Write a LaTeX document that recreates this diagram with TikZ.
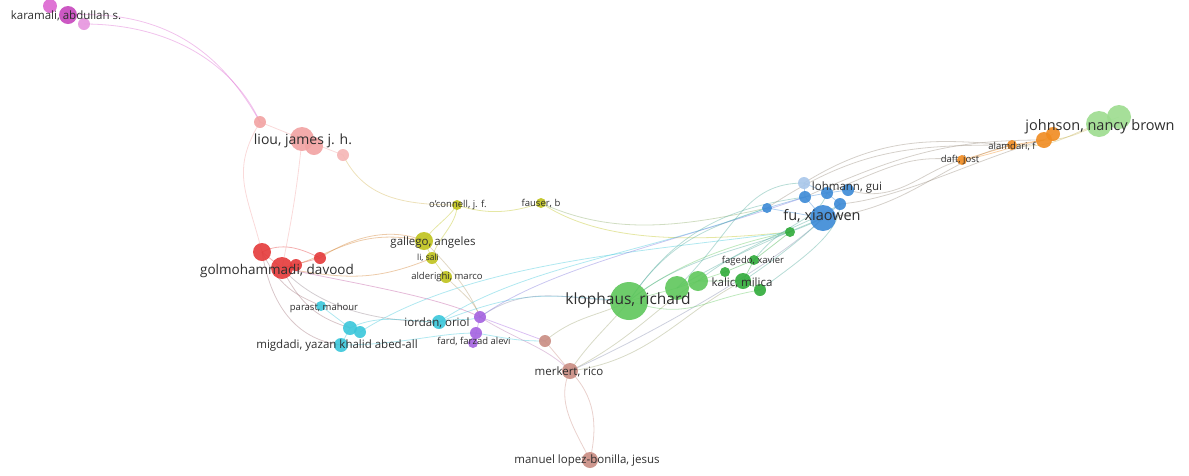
\documentclass[tikz,border=0pt]{standalone}
\usepackage{fontspec}
\setmainfont{Open Sans}
\newcommand\fs[1]{\fontsize{#1}{#1}\selectfont}
\pgfdeclarelayer{bg}
\pgfsetlayers{bg,main}
\definecolor{cMag}{HTML}{DC66D0}
\definecolor{cMagD}{HTML}{C646BC}
\definecolor{cPink}{HTML}{F2A2A2}
\definecolor{cRed}{HTML}{E43A3A}
\definecolor{cOlive}{HTML}{BFC21C}
\definecolor{cCyan}{HTML}{3AC6DA}
\definecolor{cPurp}{HTML}{A462E0}
\definecolor{cBrown}{HTML}{C98C82}
\definecolor{cGreen}{HTML}{5EC75B}
\definecolor{cDGreen}{HTML}{30AB3A}
\definecolor{cBlue}{HTML}{3B89D6}
\definecolor{cLBlue}{HTML}{A9C7EA}
\definecolor{cOrange}{HTML}{F08B20}
\definecolor{cLGreen}{HTML}{9CDC8E}
\definecolor{cText}{HTML}{2E2E2E}
\tikzset{
  dot/.style={circle, inner sep=0pt, draw=none, fill=#1, fill opacity=0.9},
  lab/.style={inner sep=0pt, text=cText},
  e/.style={draw=#1, draw opacity=0.4, line width=0.8pt},
}
\begin{document}
\begin{tikzpicture}[x=1pt, y=-1pt]
\useasboundingbox (0,0) rectangle (1189,475);

% ---- author circles ----
% karamali group
\node[dot=cMag, minimum size=14pt] (kar1) at (50,6) {};
\node[dot=cMagD, minimum size=18pt] (kar2) at (68,15) {};
\node[dot=cMag!70, minimum size=12pt] (kar3) at (84,24) {};
% liou group
\node[dot=cPink, minimum size=12pt] (li1) at (260,122) {};
\node[dot=cPink, minimum size=24pt] (li2) at (302,139) {};
\node[dot=cPink, minimum size=18pt] (li3) at (314,146) {};
\node[dot=cPink!80, minimum size=12pt] (li4) at (343,155) {};
% golmohammadi group
\node[dot=cRed, minimum size=18pt] (go1) at (262,252) {};
\node[dot=cRed, minimum size=22pt] (go2) at (282,268) {};
\node[dot=cRed, minimum size=12pt] (go3) at (296,265) {};
\node[dot=cRed, minimum size=12pt] (go4) at (320,258) {};
% gallego group
\node[dot=cOlive, minimum size=10pt] (oc) at (457,205) {};
\node[dot=cOlive, minimum size=10pt] (fa) at (541,203) {};
\node[dot=cOlive, minimum size=18pt] (ga) at (424,241) {};
\node[dot=cOlive, minimum size=12pt] (ls) at (432,258) {};
\node[dot=cOlive, minimum size=12pt] (al) at (446,277) {};
% migdadi / iordan group
\node[dot=cCyan, minimum size=10pt] (pa) at (321,306) {};
\node[dot=cCyan, minimum size=14pt] (mi1) at (350,328) {};
\node[dot=cCyan, minimum size=12pt] (mi2) at (360,332) {};
\node[dot=cCyan, minimum size=14pt] (mi3) at (341,345) {};
\node[dot=cCyan, minimum size=14pt] (io) at (439,322) {};
% fard group
\node[dot=cPurp, minimum size=12pt] (pu1) at (480,317) {};
\node[dot=cPurp, minimum size=12pt] (pu2) at (476,333) {};
\node[dot=cPurp, minimum size=10pt] (pu3) at (473,343) {};
% merkert group
\node[dot=cBrown, minimum size=12pt] (br1) at (545,341) {};
\node[dot=cBrown, minimum size=16pt] (me) at (570,371) {};
\node[dot=cBrown, minimum size=16pt] (ma) at (590,460) {};
% klophaus group
\node[dot=cGreen, minimum size=38pt] (kl) at (629,301) {};
\node[dot=cGreen, minimum size=24pt] (g2) at (677,288) {};
\node[dot=cGreen, minimum size=20pt] (g3) at (698,281) {};
\node[dot=cDGreen, minimum size=10pt] (g4) at (725,272) {};
\node[dot=cDGreen, minimum size=16pt] (g5) at (743,281) {};
\node[dot=cDGreen, minimum size=12pt] (g6) at (760,290) {};
\node[dot=cDGreen, minimum size=10pt] (fg) at (754,260) {};
\node[dot=cDGreen, minimum size=10pt] (g7) at (790,232) {};
% fu group
\node[dot=cBlue, minimum size=10pt] (b1) at (767,208) {};
\node[dot=cLBlue, minimum size=12pt] (b2) at (804,183) {};
\node[dot=cBlue, minimum size=12pt] (b3) at (805,197) {};
\node[dot=cBlue, minimum size=12pt] (b4) at (827,193) {};
\node[dot=cBlue, minimum size=12pt] (b5) at (848,190) {};
\node[dot=cBlue, minimum size=12pt] (b6) at (840,204) {};
\node[dot=cBlue, minimum size=26pt] (fu) at (823,218) {};
% johnson / orange group
\node[dot=cOrange, minimum size=10pt] (df) at (962,160) {};
\node[dot=cOrange, minimum size=10pt] (am) at (1012,145) {};
\node[dot=cOrange, minimum size=16pt] (or1) at (1044,140) {};
\node[dot=cOrange, minimum size=14pt] (or2) at (1053,134) {};
\node[dot=cLGreen, minimum size=26pt] (jo1) at (1099,124) {};
\node[dot=cLGreen, minimum size=24pt] (jo2) at (1119,117) {};

% ---- co-authorship links ----
\begin{pgfonlayer}{bg}
% magenta and pink
\draw[e=cMag] (kar3.center) .. controls +(90,0) and +(-25,-55) .. (li1.center);
\draw[e=cMag] (kar2.center) .. controls +(105,-6) and +(-35,-62) .. (li1.center);
\draw[e=cPink] (li1.center) -- (li2.center) -- (li4.center);
\draw[e=cPink] (li1.center) .. controls +(-30,50) and +(-15,-60) .. (go1.center);
\draw[e=cPink] (li2.center) .. controls +(-5,50) and +(10,-50) .. (go2.center);
\draw[e=cOlive!60!cPink] (li4.center) .. controls +(20,40) and +(-60,0) .. (oc.center);
% olive
\draw[e=cOlive] (oc.center) .. controls +(30,10) and +(-30,10) .. (fa.center);
\draw[e=cOlive] (fa.center) .. controls +(60,40) and +(-100,10) .. (g7.center);
\draw[e=cOlive!60!cBlue] (fa.center) .. controls +(70,32) and +(-90,20) .. (b1.center);
\draw[e=cOlive] (oc.center) .. controls +(-10,15) and +(10,-15) .. (ga.center);
\draw[e=cOlive] (oc.center) .. controls +(0,20) and +(5,-20) .. (ls.center);
\draw[e=cOlive] (ga.center) -- (ls.center) -- (al.center);
\draw[e=cOlive!50!cRed] (ga.center) .. controls +(-35,-15) and +(30,-20) .. (go4.center);
\draw[e=cOlive!50!cRed] (ga.center) .. controls +(-70,-15) and +(50,-10) .. (go2.center);
\draw[e=cOlive!50!cRed] (ls.center) .. controls +(-60,25) and +(60,10) .. (go2.center);
\draw[e=cOlive!60!cPurp] (al.center) .. controls +(20,20) and +(-5,-15) .. (pu1.center);
\draw[e=cOlive!60!cPurp] (ga.center) .. controls +(30,30) and +(-10,-25) .. (pu1.center);
% red
\draw[e=cRed] (go1.center) -- (go2.center) -- (go4.center);
\draw[e=cRed] (go1.center) .. controls +(20,-10) and +(-20,-10) .. (go4.center);
\draw[e=cRed!60!cCyan] (go2.center) .. controls +(20,40) and +(-30,-10) .. (mi1.center);
\draw[e=cRed!60!cCyan] (go1.center) .. controls +(20,40) and +(-20,-10) .. (pa.center);
\draw[e=cRed!50!cCyan] (go2.center) .. controls +(40,45) and +(-50,0) .. (io.center);
\draw[e=cRed!40!cPurp] (go2.center) .. controls +(70,15) and +(-40,-20) .. (pu1.center);
\draw[e=cRed!60!cCyan] (go1.center) .. controls +(10,60) and +(-40,-5) .. (mi3.center);
% cyan
\draw[e=cCyan] (pa.center) -- (mi1.center) -- (mi3.center);
\draw[e=cCyan] (mi1.center) .. controls +(30,-15) and +(-30,0) .. (io.center);
\draw[e=cCyan] (mi2.center) .. controls +(110,-70) and +(-150,20) .. (g7.center);
\draw[e=cCyan] (io.center) .. controls +(80,-55) and +(-120,45) .. (b1.center);
\draw[e=cCyan] (io.center) .. controls +(90,-35) and +(-80,-5) .. (kl.center);
\draw[e=cCyan] (mi3.center) .. controls +(60,0) and +(-40,0) .. (pu2.center);
\draw[e=cCyan] (pu2.center) .. controls +(30,5) and +(-30,0) .. (br1.center);
\draw[e=cCyan] (io.center) .. controls +(25,-5) and +(-15,5) .. (pu1.center);
% purple and brown
\draw[e=cPurp] (pu1.center) -- (pu2.center) -- (pu3.center);
\draw[e=cPurp] (pu1.center) -- (br1.center);
\draw[e=cPurp!50!cBrown] (pu1.center) .. controls +(40,25) and +(-25,-25) .. (me.center);
\draw[e=cPurp!60!cGreen] (pu1.center) .. controls +(50,-35) and +(-60,0) .. (kl.center);
\draw[e=cPurp!60!cBlue] (pu1.center) .. controls +(70,-50) and +(-130,45) .. (b3.center);
\draw[e=cBrown] (br1.center) -- (me.center);
\draw[e=cBrown] (me.center) .. controls +(-15,30) and +(-15,-30) .. (ma.center);
\draw[e=cBrown] (me.center) .. controls +(25,25) and +(8,-35) .. (ma.center);
\draw[e=cBrown!60!cGreen] (me.center) .. controls +(20,-30) and +(-20,25) .. (kl.center);
\draw[e=cBrown!60!cGreen] (me.center) .. controls +(80,-10) and +(-60,30) .. (g5.center);
\draw[e=cBrown!60!cGreen] (me.center) .. controls +(60,-30) and +(-40,25) .. (g3.center);
\draw[e=cBrown!60!cGreen] (br1.center) .. controls +(30,-25) and +(-30,15) .. (kl.center);
\draw[e=cBrown!50!cBlue] (me.center) .. controls +(90,-40) and +(-40,40) .. (fu.center);
% green
\draw[e=cGreen] (kl.center) -- (g2.center) -- (g3.center) -- (g4.center);
\draw[e=cDGreen] (g3.center) -- (g5.center) -- (g6.center);
\draw[e=cDGreen] (g4.center) -- (fg.center) -- (g7.center);
\draw[e=cDGreen] (g5.center) -- (fg.center);
\draw[e=cGreen] (kl.center) .. controls +(60,20) and +(-60,10) .. (g6.center);
\draw[e=cGreen] (kl.center) .. controls +(50,-40) and +(-50,10) .. (g7.center);
\draw[e=cGreen!50!cBlue] (kl.center) .. controls +(40,-60) and +(-60,20) .. (b1.center);
\draw[e=cGreen!50!cBlue] (kl.center) .. controls +(60,-50) and +(-60,30) .. (fu.center);
\draw[e=cGreen!50!cBlue] (kl.center) .. controls +(50,-75) and +(-70,10) .. (b3.center);
\draw[e=cGreen!50!cBlue] (g2.center) .. controls +(50,-30) and +(-50,20) .. (fu.center);
\draw[e=cGreen!50!cBlue] (g3.center) .. controls +(50,-40) and +(-30,20) .. (b6.center);
\draw[e=cGreen!50!cBlue] (g5.center) .. controls +(30,-20) and +(-20,20) .. (fu.center);
\draw[e=cGreen!50!cBlue] (g6.center) .. controls +(40,-30) and +(0,30) .. (b6.center);
\draw[e=cGreen!50!cBlue] (fg.center) .. controls +(30,-40) and +(-10,30) .. (b4.center);
\draw[e=cGreen!50!cBlue] (g2.center) .. controls +(60,-60) and +(-60,0) .. (b2.center);
% blue
\draw[e=cBlue] (b1.center) -- (b3.center) -- (b4.center) -- (b5.center);
\draw[e=cBlue] (b1.center) -- (fu.center) -- (b6.center) -- (b4.center);
\draw[e=cBlue] (b2.center) -- (b3.center) -- (fu.center);
\draw[e=cBlue] (b2.center) -- (b4.center);
% blue to orange
\draw[e=cBlue!50!cOrange] (b2.center) .. controls +(80,-50) and +(-70,-5) .. (am.center);
\draw[e=cBlue!50!cOrange] (b3.center) .. controls +(100,-45) and +(-90,0) .. (or1.center);
\draw[e=cBlue!50!cOrange] (b4.center) .. controls +(70,-30) and +(-50,-5) .. (df.center);
\draw[e=cBlue!50!cOrange] (b5.center) .. controls +(50,15) and +(-40,10) .. (df.center);
\draw[e=cBlue!50!cOrange] (fu.center) .. controls +(90,-10) and +(-70,15) .. (am.center);
\draw[e=cBlue!50!cOrange] (b6.center) .. controls +(60,-5) and +(-70,20) .. (or1.center);
\draw[e=cBlue!50!cOrange] (b1.center) .. controls +(90,-60) and +(-100,0) .. (am.center);
% orange and johnson
\draw[e=cOrange] (df.center) -- (am.center) -- (or1.center) -- (or2.center);
\draw[e=cOrange] (df.center) .. controls +(30,-5) and +(-30,5) .. (or1.center);
\draw[e=cOrange!50!cLGreen] (or1.center) .. controls +(20,0) and +(-20,10) .. (jo1.center);
\draw[e=cOrange!50!cLGreen] (am.center) .. controls +(40,5) and +(-30,10) .. (jo1.center);
\draw[e=cLGreen] (jo1.center) -- (jo2.center);
\end{pgfonlayer}

% ---- author names ----
\node[lab, font=\fs{11.5}] (t-kar) at (66,16) {karamali, abdullah s.};
\node[lab, font=\fs{14}] (t-liou) at (303,141) {liou, james j. h.};
\node[lab, font=\fs{13.5}] (t-golm) at (277,271) {golmohammadi, davood};
\node[lab, font=\fs{11.5}] (t-gall) at (433,243) {gallego, angeles};
\node[lab, font=\fs{9.5}] (t-ocon) at (458,205) {o'connell, j. f.};
\node[lab, font=\fs{9.5}] (t-faus) at (541,203) {fauser, b};
\node[lab, font=\fs{8.5}] (t-li) at (428,258) {li, sali};
\node[lab, font=\fs{9.5}] (t-alde) at (447,277) {alderighi, marco};
\node[lab, font=\fs{9.5}] (t-para) at (324,308) {parast, mahour};
\node[lab, font=\fs{11.5}] (t-migd) at (337,346) {migdadi, yazan khalid abed-all};
\node[lab, font=\fs{11.5}] (t-iord) at (437,323) {iordan, oriol};
\node[lab, font=\fs{9.5}] (t-fard) at (474,341) {fard, farzad alevi};
\node[lab, font=\fs{11.5}] (t-merk) at (569,372) {merkert, rico};
\node[lab, font=\fs{11.5}] (t-manu) at (587,461) {manuel lopez-bonilla, jesus};
\node[lab, font=\fs{15.5}] (t-klop) at (628,300) {klophaus, richard};
\node[lab, font=\fs{11.5}] (t-kali) at (742,283) {kalic, milica};
\node[lab, font=\fs{9.5}] (t-fage) at (753,261) {fagedo, xavier};
\node[lab, font=\fs{11.5}] (t-lohm) at (847,188) {lohmann, gui};
\node[lab, font=\fs{14.5}] (t-fu) at (822,216) {fu, xiaowen};
\node[lab, font=\fs{9.5}] (t-daft) at (960,160) {daft, jost};
\node[lab, font=\fs{9.5}] (t-alam) at (1012,146) {alamdari, f};
\node[lab, font=\fs{14.5}] (t-john) at (1100,127) {johnson, nancy brown};
\end{tikzpicture}
\end{document}
